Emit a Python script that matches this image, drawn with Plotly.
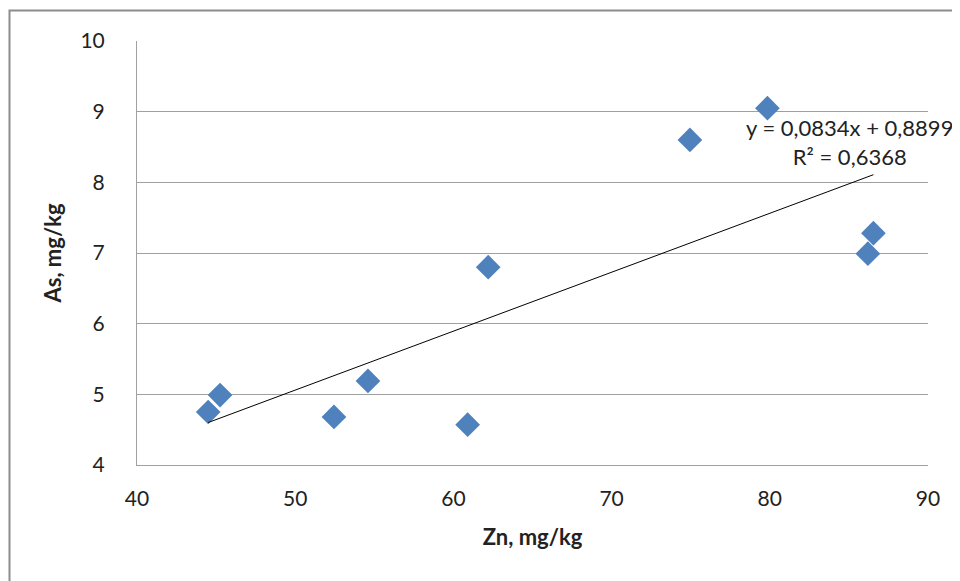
import plotly.graph_objects as go

zn = [44.5, 45.25, 52.45, 54.6, 60.9, 62.2, 74.95, 79.85, 86.2, 86.55]
as_ = [4.75, 4.99, 4.68, 5.19, 4.57, 6.80, 8.60, 9.05, 6.99, 7.28]
slope = 0.0834
intercept = 0.8899
eq_text = "y = 0,0834x + 0,8899<br>R² = 0,6368"
x_ticks = [40, 50, 60, 70, 80, 90]
y_ticks = [4, 5, 6, 7, 8, 9, 10]

FONT = "Lato, 'Open Sans', sans-serif"

fig = go.Figure()
fig.add_trace(go.Scatter(
    x=zn, y=as_, mode="markers",
    marker=dict(symbol="diamond", size=19, color="#4F81BD",
                line=dict(width=0)),
    showlegend=False,
))
xmin, xmax = min(zn), max(zn)
fig.add_trace(go.Scatter(
    x=[xmin, xmax], y=[slope * xmin + intercept, slope * xmax + intercept],
    mode="lines", line=dict(color="black", width=1), showlegend=False,
))

OFF = 8  # page body margin
W, H = 960 - OFF, 581 - OFF
L, T = 137 - OFF, 41 - OFF
pw, ph = 791, 424
R, B = W - L - pw, H - T - ph

def px(xp):
    return (xp - OFF - L) / pw

def py(yp):
    return 1 - (yp - OFF - T) / ph

fig.update_layout(
    width=W, height=H,
    margin=dict(l=L, r=R, t=T, b=B),
    paper_bgcolor="white", plot_bgcolor="white",
    font=dict(family=FONT, size=21, color="#222222"),
    xaxis=dict(
        range=[40, 90], tickvals=x_ticks, showgrid=False, zeroline=False,
        showline=True, linecolor="#A0A0A0", linewidth=1,
        ticks="", ticklabelstandoff=15,
        title=dict(text="<b>Zn, mg/kg</b>", font=dict(size=22), standoff=20),
    ),
    yaxis=dict(
        range=[4, 10], tickvals=y_ticks, showgrid=True, gridcolor="#A0A0A0",
        gridwidth=1, zeroline=False,
        showline=True, linecolor="#A0A0A0", linewidth=1,
        ticks="", ticklabelstandoff=27,
        title=dict(text="<b>As, mg/kg</b>", font=dict(size=22), standoff=12),
    ),
    shapes=[dict(
        type="rect", xref="paper", yref="paper",
        x0=px(9.5), x1=px(1000), y0=py(10.5), y1=py(700),
        line=dict(color="#8C8C8C", width=2), fillcolor="rgba(0,0,0,0)",
        layer="below",
    )],
    annotations=[dict(
        text=eq_text, xref="paper", yref="paper",
        x=px(849), y=py(142), xanchor="center", yanchor="middle",
        showarrow=False, align="center", font=dict(size=22, color="#222222"),
    )],
)

fig.write_html("out.html")
